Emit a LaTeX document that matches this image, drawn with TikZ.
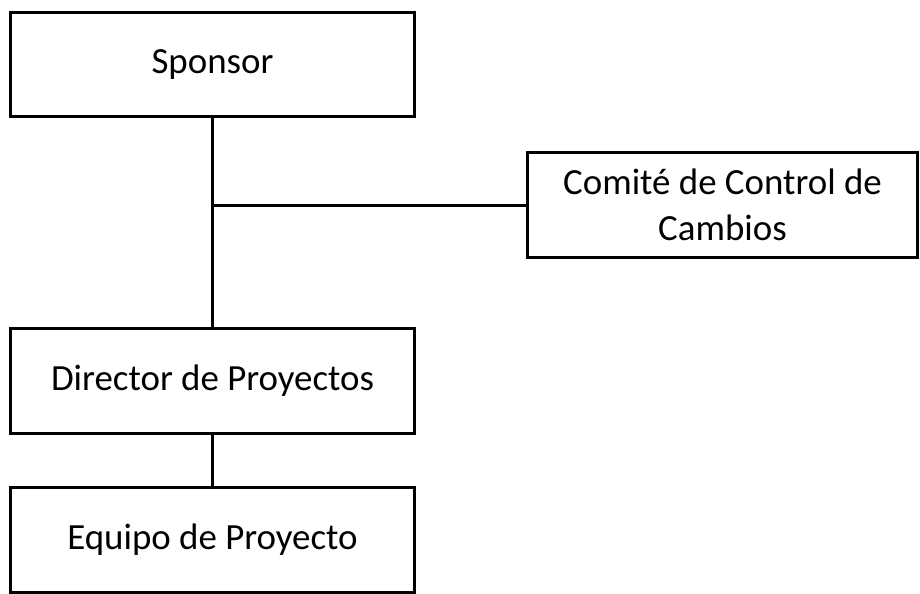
\documentclass[tikz,border=0pt]{standalone}
\usepackage{fontspec}
\setmainfont{Carlito}
\usetikzlibrary{positioning}
\tikzset{
  line cap=rect,
  line join=miter,
  every picture/.style={line width=0.06cm},
  box/.style={draw, fill=white, minimum width=8.1cm, minimum height=2.1cm, align=center, inner sep=0pt, font=\fontsize{21}{26}\selectfont},
  link/.style={draw, line width=0.06cm}
}
\begin{document}
\begin{tikzpicture}[x=0.02cm, y=-0.02cm]
  \useasboundingbox (0,0) rectangle (920,593);

  \node[box] (sponsor) at (212.5,64.5) {Sponsor};
  \node[box, minimum width=7.82cm] (comite) at (722.5,205) {Comité de Control de\\Cambios};
  \node[box] (director) at (212.5,381) {Director de Proyectos};
  \node[box] (equipo) at (212.5,539.5) {Equipo de Proyecto};

  \draw[link] (sponsor.south) -- (director.north);
  \draw[link] (sponsor.south |- comite.west) -- (comite.west);
  \draw[link] (director.south) -- (equipo.north);
\end{tikzpicture}
\end{document}
